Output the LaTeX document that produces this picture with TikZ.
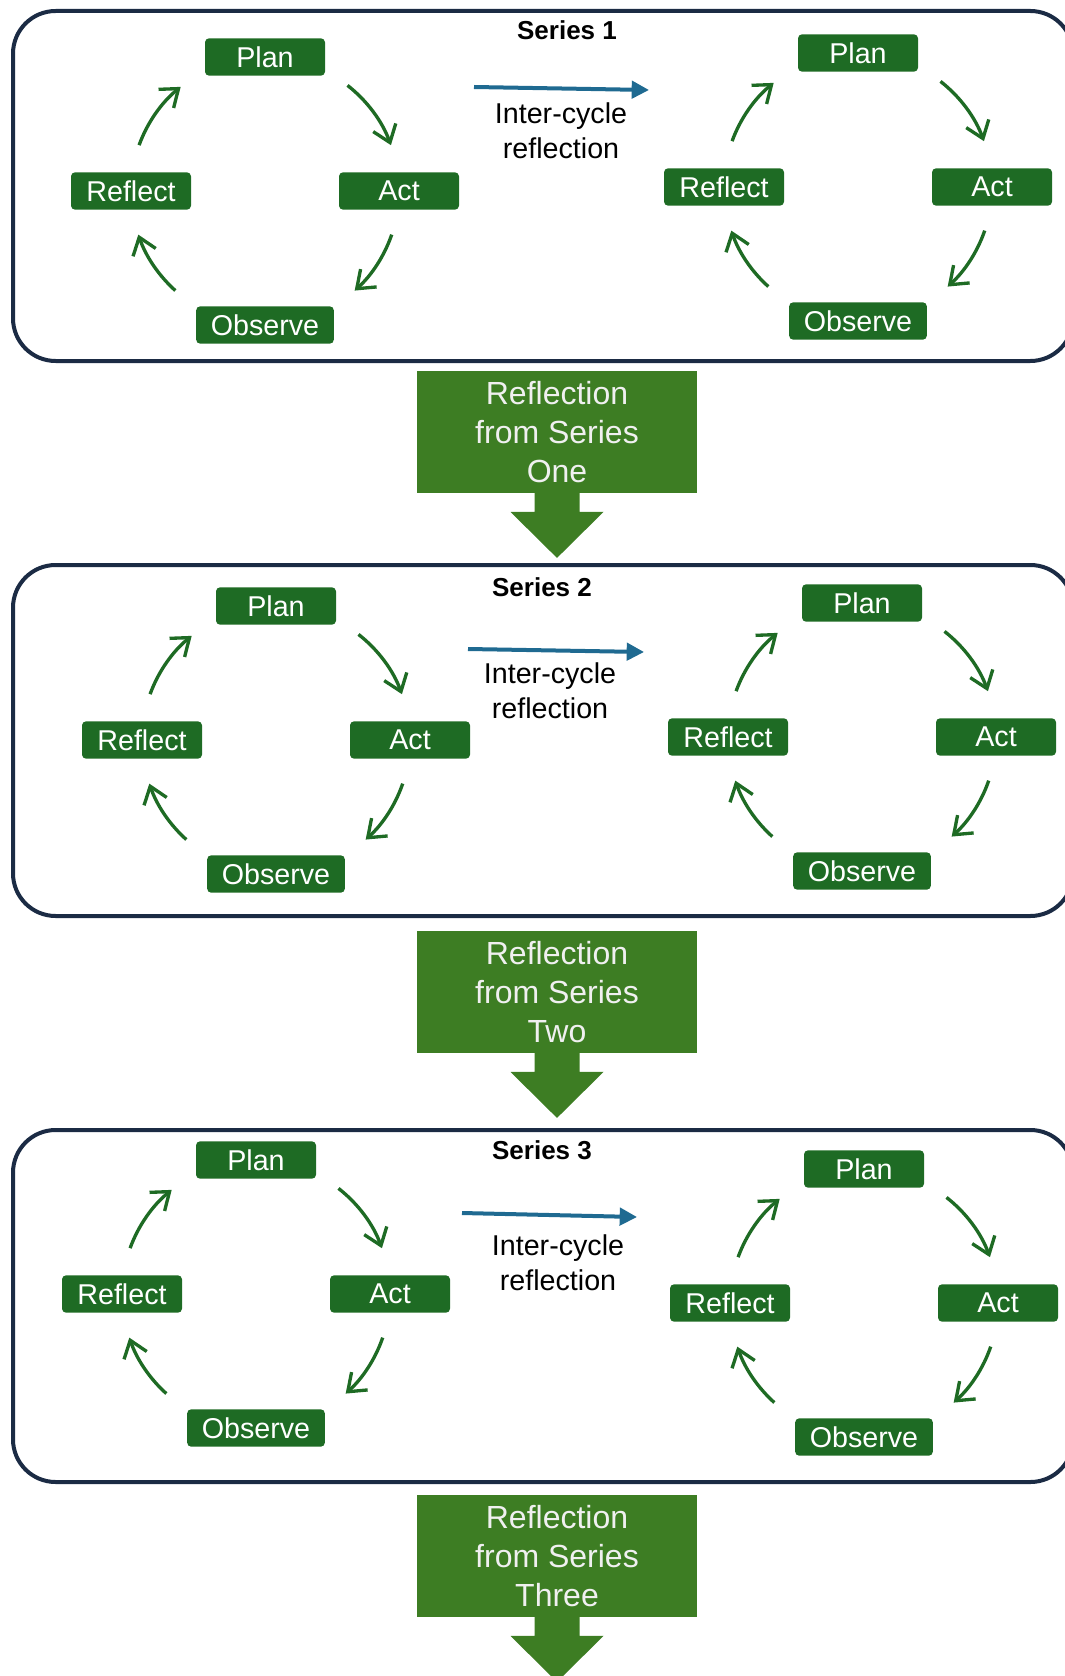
\documentclass[tikz,border=0pt]{standalone}
\usepackage{fontspec}
\setmainfont{Liberation Sans}
\usetikzlibrary{arrows.meta}
\definecolor{stagegreen}{HTML}{1E6B24}
\definecolor{flowgreen}{HTML}{3D7D23}
\definecolor{framenavy}{HTML}{1B2B44}
\definecolor{linkblue}{HTML}{1F6A91}
\tikzset{
	stage/.style={fill=stagegreen,text=white,rounded corners=3pt,minimum width=90pt,minimum height=28pt,inner xsep=11pt,inner ysep=2pt,font=\fontsize{21.5}{25}\selectfont},
	turn/.style={draw=stagegreen,line width=2.5pt,-{Straight Barb[length=12pt,width=18pt]}},
	frame/.style={draw=framenavy,line width=3pt,rounded corners=32pt},
	serieslabel/.style={font=\bfseries\fontsize{19.5}{23}\selectfont},
	note/.style={align=center,font=\fontsize{21.5}{26.5}\selectfont},
	link/.style={draw=linkblue,line width=3pt,-{Triangle[length=13pt,width=13pt]}},
	flowbox/.style={fill=flowgreen,text=white!94!black,minimum width=210pt,minimum height=91pt,inner sep=0pt,align=center,font=\fontsize{24}{29}\selectfont}
}
\begin{document}
\begin{tikzpicture}[x=0.75pt,y=-0.75pt]
	\useasboundingbox (0,0) rectangle (1064,1676);
	% the three series frames
	\foreach \t/\b in {11/361,565/916,1130/1482}
		\draw[frame] (13,\t) rectangle (1073,\b);
	% one action research cycle per centre
	\foreach \nm/\cx/\cy in {a/265/191,b/858/187,c/276/740,d/862/737,e/256/1294,f/864/1303}{
		\coordinate (\nm) at (\cx,\cy);
		\node[stage] (\nm-plan) at (\cx,\cy-134) {Plan};
		\node[stage] (\nm-act) at (\cx+134,\cy) {Act};
		\node[stage] (\nm-obs) at (\cx,\cy+134) {Observe};
		\node[stage] (\nm-refl) at (\cx-134,\cy) {Reflect};
		\foreach \p/\q in {-52/-20,19/48,132/161,200/231}
			\draw[turn] ([shift={(\p:134)}]\nm) arc[start angle=\p,end angle=\q,radius=134];
	}
	% series 1
	\node[serieslabel] (s1) at (567,30) {Series 1};
	\coordinate (l1a) at (474,87);
	\coordinate (l1b) at (649,90);
	\draw[link] (l1a) -- (l1b);
	\node[note] (n1) at (561,131) {Inter-cycle\\reflection};
	% series 2
	\node[serieslabel] (s2) at (542,587) {Series 2};
	\coordinate (l2a) at (468,649);
	\coordinate (l2b) at (644,652);
	\draw[link] (l2a) -- (l2b);
	\node[note] (n2) at (550,691) {Inter-cycle\\reflection};
	% series 3
	\node[serieslabel] (s3) at (542,1150) {Series 3};
	\coordinate (l3a) at (462,1213);
	\coordinate (l3b) at (637,1217);
	\draw[link] (l3a) -- (l3b);
	\node[note] (n3) at (558,1263) {Inter-cycle\\reflection};
	% reflection carried down
	\node[flowbox] (r1) at (557,432) {Reflection\\from Series\\One};
	\node[flowbox] (r2) at (557,992) {Reflection\\from Series\\Two};
	\node[flowbox] (r3) at (557,1556) {Reflection\\from Series\\Three};
	\foreach \r in {r1,r2,r3}
		\fill[flowgreen] ([shift={(-22.5,-1)}]\r.south) -- ++(0,20) -- ++(-24,0) -- ++(46.5,46) -- ++(46.5,-46) -- ++(-24,0) -- ++(0,-20) -- cycle;
\end{tikzpicture}
\end{document}
